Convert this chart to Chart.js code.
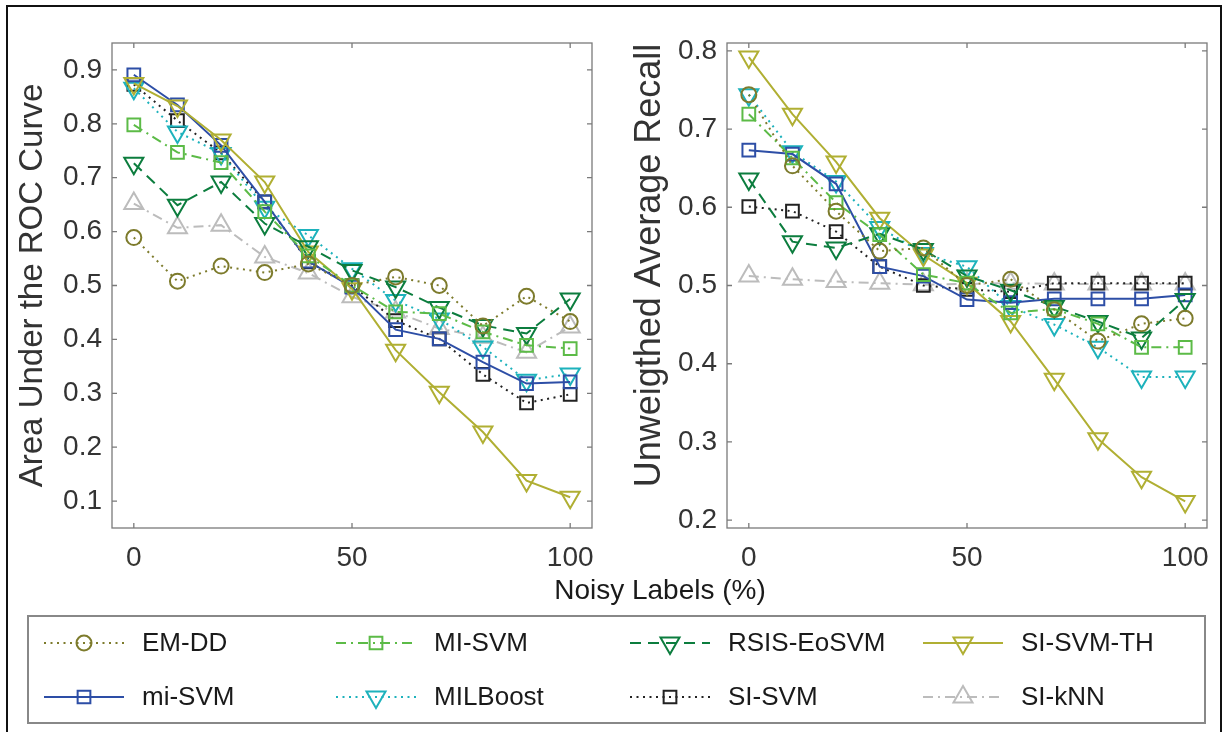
<!DOCTYPE html>
<html>
<head>
<meta charset="utf-8">
<script src="https://cdn.jsdelivr.net/npm/chart.js@4/dist/chart.umd.min.js"></script>
<style>
  body { margin: 0; background: #fff; font-family: "Liberation Sans", Arial, sans-serif; }
  #frame { position: absolute; left: 6px; top: 5px; width: 1212px; height: 760px; border: 2px solid #111; }
  .plot { position: absolute; top: 0; }
  #xlabel { position: absolute; left: 460px; width: 400px; top: 576px; text-align: center;
            font-size: 28px; line-height: 28px; color: #1a1a1a; }
  #legend { position: absolute; left: 27px; top: 615px; }
</style>
</head>
<body>
<div id="frame"></div>
<canvas id="aucChart" class="plot" style="left:0px" width="605" height="610"></canvas>
<canvas id="uarChart" class="plot" style="left:615px" width="605" height="610"></canvas>
<div id="xlabel">Noisy Labels (%)</div>
<canvas id="legend" width="1180" height="109"></canvas>
<script>
// Noise levels on the x axis
const noise = [0, 10, 20, 30, 40, 50, 60, 70, 80, 90, 100];
const xTicks = [0, 50, 100];
const aucTicks = [0.1, 0.2, 0.3, 0.4, 0.5, 0.6, 0.7, 0.8, 0.9];
const uarTicks = [0.2, 0.3, 0.4, 0.5, 0.6, 0.7, 0.8];

const methods = ['EM-DD', 'MI-SVM', 'RSIS-EoSVM', 'SI-SVM-TH', 'mi-SVM', 'MILBoost', 'SI-SVM', 'SI-kNN'];

// Area under the ROC curve
const aucEMDD     = [0.589, 0.508, 0.536, 0.524, 0.540, 0.500, 0.516, 0.500, 0.425, 0.480, 0.433];
const aucMISVM    = [0.798, 0.747, 0.728, 0.637, 0.555, 0.500, 0.451, 0.448, 0.414, 0.389, 0.383];
const aucRSIS     = [0.727, 0.649, 0.692, 0.615, 0.572, 0.528, 0.497, 0.459, 0.426, 0.411, 0.475];
const aucSISVMTH  = [0.875, 0.833, 0.770, 0.692, 0.562, 0.494, 0.380, 0.302, 0.228, 0.138, 0.107];
const aucMiSVM    = [0.891, 0.835, 0.760, 0.655, 0.545, 0.497, 0.418, 0.401, 0.358, 0.318, 0.321];
const aucMILBoost = [0.866, 0.785, 0.745, 0.645, 0.593, 0.531, 0.472, 0.438, 0.386, 0.324, 0.336];
const aucSISVM    = [0.873, 0.806, 0.746, 0.655, 0.544, 0.500, 0.435, 0.401, 0.335, 0.282, 0.298];
const aucSIkNN    = [0.652, 0.607, 0.612, 0.553, 0.523, 0.479, 0.451, 0.420, 0.404, 0.376, 0.423];

// Unweighted average recall
const uarEMDD     = [0.744, 0.653, 0.595, 0.544, 0.548, 0.500, 0.508, 0.469, 0.429, 0.451, 0.458];
const uarMISVM    = [0.719, 0.663, 0.606, 0.565, 0.514, 0.503, 0.465, 0.470, 0.451, 0.421, 0.421];
const uarRSIS     = [0.636, 0.556, 0.548, 0.566, 0.546, 0.512, 0.494, 0.473, 0.454, 0.433, 0.482];
const uarSISVMTH  = [0.792, 0.719, 0.658, 0.586, 0.539, 0.503, 0.454, 0.380, 0.304, 0.255, 0.224];
const uarMiSVM    = [0.673, 0.668, 0.630, 0.524, 0.512, 0.482, 0.478, 0.483, 0.483, 0.483, 0.488];
const uarMILBoost = [0.744, 0.671, 0.633, 0.574, 0.541, 0.524, 0.473, 0.450, 0.421, 0.383, 0.383];
const uarSISVM    = [0.601, 0.595, 0.569, 0.524, 0.500, 0.495, 0.492, 0.503, 0.503, 0.503, 0.503];
const uarSIkNN    = [0.512, 0.508, 0.505, 0.503, 0.501, 0.502, 0.503, 0.502, 0.502, 0.502, 0.502];

// line / marker look for each method (same order as methods)
const dotted = [2, 4.5];
const dashDot = [10, 5, 2, 5];
const dashed = [11, 7];
const styles = [
  { color: '#7d7b2c', dash: dotted,  marker: 'circle',   rot: 0,   r: 7.5 },
  { color: '#5cbb47', dash: dashDot, marker: 'rect',     rot: 0,   r: 9 },
  { color: '#0c7d3e', dash: dashed,  marker: 'triangle', rot: 180, r: 11 },
  { color: '#b0af33', dash: [],      marker: 'triangle', rot: 180, r: 11 },
  { color: '#2d4ea6', dash: [],      marker: 'rect',     rot: 0,   r: 9 },
  { color: '#1db2bc', dash: dotted,  marker: 'triangle', rot: 180, r: 11 },
  { color: '#222222', dash: dotted,  marker: 'rect',     rot: 0,   r: 9 },
  { color: '#bcbcbc', dash: dashDot, marker: 'triangle', rot: 0,   r: 11 }
];

const axisColor = '#7a7a7a';
const textColor = '#333333';
const fontFamily = '"Liberation Sans", Arial, sans-serif';

function makeDatasets(series) {
  return series.map((vals, i) => {
    const s = styles[i];
    return {
      label: methods[i],
      data: noise.map((x, j) => ({ x: x, y: vals[j] })),
      borderColor: s.color,
      borderWidth: 2,
      borderDash: s.dash,
      pointStyle: s.marker,
      pointRotation: s.rot,
      pointRadius: s.r,
      pointBorderWidth: 2,
      pointBorderColor: s.color,
      pointBackgroundColor: 'rgba(0,0,0,0)',
      tension: 0,
      fill: false
    };
  });
}

// axes box and inward ticks, like the original figure
const boxPlugin = {
  id: 'box',
  beforeDatasetsDraw(chart) {
    const ctx = chart.ctx;
    const a = chart.chartArea;
    const sx = chart.scales.x;
    const sy = chart.scales.y;
    ctx.save();
    ctx.strokeStyle = axisColor;
    ctx.lineWidth = 1.3;
    ctx.strokeRect(a.left, a.top, a.right - a.left, a.bottom - a.top);
    ctx.beginPath();
    sx.ticks.forEach((t) => {
      const px = sx.getPixelForValue(t.value);
      ctx.moveTo(px, a.bottom); ctx.lineTo(px, a.bottom - 5);
      ctx.moveTo(px, a.top); ctx.lineTo(px, a.top + 5);
    });
    sy.ticks.forEach((t) => {
      const py = sy.getPixelForValue(t.value);
      ctx.moveTo(a.left, py); ctx.lineTo(a.left + 5, py);
      ctx.moveTo(a.right, py); ctx.lineTo(a.right - 5, py);
    });
    ctx.stroke();
    ctx.restore();
  }
};

function makeChart(id, series, yMin, yMax, yTicks, yTitle, titleSize) {
  const ctx = document.getElementById(id).getContext('2d');
  return new Chart(ctx, {
    type: 'line',
    data: { datasets: makeDatasets(series) },
    plugins: [boxPlugin],
    options: {
      responsive: false,
      animation: false,
      layout: { padding: { left: 0, top: 43, right: 3, bottom: 22 } },
      plugins: { legend: { display: false }, tooltip: { enabled: false } },
      scales: {
        x: {
          type: 'linear',
          min: -5,
          max: 105,
          afterBuildTicks: (scale) => { scale.ticks = xTicks.map((v) => ({ value: v })); },
          afterFit: (scale) => { scale.height = 60; scale.paddingLeft = 0; scale.paddingRight = 0; },
          grid: { display: false, drawTicks: false },
          border: { display: false },
          ticks: { padding: 13, color: textColor, font: { family: fontFamily, size: 28 }, callback: (v) => v }
        },
        y: {
          type: 'linear',
          min: yMin,
          max: yMax,
          afterBuildTicks: (scale) => { scale.ticks = yTicks.map((v) => ({ value: v })); },
          afterFit: (scale) => { scale.width = 112; scale.paddingTop = 0; scale.paddingBottom = 0; },
          grid: { display: false, drawTicks: false },
          border: { display: false },
          ticks: { padding: 10, color: textColor, font: { family: fontFamily, size: 28 }, callback: (v) => v.toFixed(1) },
          title: {
            display: true,
            text: yTitle,
            color: textColor,
            font: { family: fontFamily, size: titleSize },
            padding: { top: 13, bottom: 0 }
          }
        }
      }
    }
  });
}

makeChart('aucChart',
  [aucEMDD, aucMISVM, aucRSIS, aucSISVMTH, aucMiSVM, aucMILBoost, aucSISVM, aucSIkNN],
  0.05, 0.95, aucTicks, 'Area Under the ROC Curve', 33);

makeChart('uarChart',
  [uarEMDD, uarMISVM, uarRSIS, uarSISVMTH, uarMiSVM, uarMILBoost, uarSISVM, uarSIkNN],
  0.19, 0.81, uarTicks, '    Unweigthed Average Recall', 36);

// Legend box below the plots: 2 rows x 4 columns
function drawMarker(ctx, s, x, y) {
  ctx.beginPath();
  if (s.marker === 'circle') {
    ctx.arc(x, y, s.r, 0, Math.PI * 2);
  } else if (s.marker === 'rect') {
    const h = s.r * Math.SQRT1_2;
    ctx.rect(x - h, y - h, 2 * h, 2 * h);
  } else {
    let rad = s.rot * Math.PI / 180;
    for (let k = 0; k < 3; k++) {
      const px = x + Math.sin(rad) * s.r;
      const py = y - Math.cos(rad) * s.r;
      if (k === 0) ctx.moveTo(px, py); else ctx.lineTo(px, py);
      rad += Math.PI * 2 / 3;
    }
    ctx.closePath();
  }
  ctx.stroke();
}

const lg = document.getElementById('legend').getContext('2d');
lg.strokeStyle = '#888';
lg.lineWidth = 2;
lg.strokeRect(1, 1, 1177, 107);
const colX = [17, 309, 603, 896];
const rowY = [28, 82];
methods.forEach((name, i) => {
  const s = styles[i];
  const x0 = colX[i % 4];
  const y = rowY[Math.floor(i / 4)];
  lg.save();
  lg.strokeStyle = s.color;
  lg.lineWidth = 2;
  lg.setLineDash(s.dash);
  lg.beginPath();
  lg.moveTo(x0, y);
  lg.lineTo(x0 + 80, y);
  lg.stroke();
  lg.setLineDash([]);
  drawMarker(lg, s, x0 + 40, y);
  lg.restore();
  lg.fillStyle = '#1a1a1a';
  lg.font = '26px ' + fontFamily;
  lg.textBaseline = 'middle';
  lg.fillText(name, x0 + 98, y + 1);
});
</script>
</body>
</html>
